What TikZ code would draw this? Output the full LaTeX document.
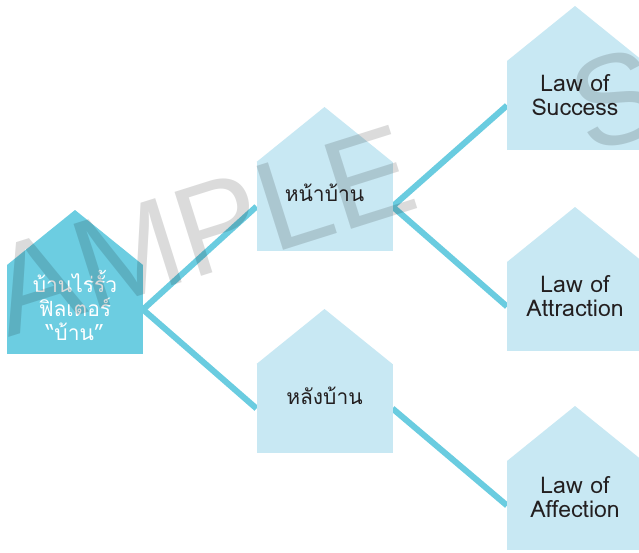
\documentclass[tikz,border=0pt]{standalone}
\usepackage{fontspec}
\newfontfamily\thaifont[Script=Thai]{Loma}
\newfontfamily\wmfont{Liberation Sans}
\definecolor{darkhouse}{HTML}{6CCDE1}
\definecolor{lighthouse}{HTML}{C8E8F3}
\definecolor{wirecol}{HTML}{6ACCE0}
\definecolor{ink}{HTML}{231F20}
\pgfdeclarelayer{back}
\pgfsetlayers{back,main}
\tikzset{
  wire/.style={draw=wirecol, line width=6pt},
  body/.style={rectangle, inner sep=0pt, outer sep=0pt,
    minimum width=136pt, minimum height=89pt},
  thai/.style={align=center, text=ink, inner sep=0pt,
    font=\thaifont\fontsize{21}{24}\selectfont},
  thaiw/.style={thai, text=white},
  latin/.style={align=center, text=ink, inner sep=0pt,
    font=\thaifont\fontsize{23}{24}\selectfont},
  watermark/.style={rotate=17.5, anchor=base west, text=black, text opacity=0.14,
    inner sep=0pt, font=\wmfont\fontsize{128}{128}\selectfont},
}
% name, centre x, roof top y, colour
\newcommand\house[4]{%
  \node[body, fill=#4] (#1) at (#2,#3+99.5) {};
  \fill[#4] (#1.north west) -- ++(68,-55) -- (#1.north east) -- cycle;}
\begin{document}
\begin{tikzpicture}[x=1pt,y=-1pt]
\useasboundingbox (0,0) rectangle (639,552);
\clip (0,0) rectangle (639,552);
% houses
\house{b0}{75}{210}{darkhouse}
\house{b1}{324.5}{107}{lighthouse}
\house{b2}{324.5}{309}{lighthouse}
\house{b3}{575}{6}{lighthouse}
\house{b4}{575}{207}{lighthouse}
\house{b5}{575}{406}{lighthouse}
% connectors (behind the houses)
\begin{pgfonlayer}{back}
\fill[white] (0,0) rectangle (639,552);
\draw[wire] (b0.east) -- (b1.west);
\draw[wire] (b0.east) -- (b2.west);
\draw[wire] (b1.east) -- (b3.west);
\draw[wire] (b1.east) -- (b4.west);
\draw[wire] (b2.east) -- (b5.west);
\end{pgfonlayer}
% labels
\node[thaiw] (n0) at (75,305) {บ้านไร่รั้ว\\ฟิลเตอร์\\“บ้าน”};
\node[thai] (n1) at (324.5,193) {หน้าบ้าน};
\node[thai] (n2) at (324.5,396) {หลังบ้าน};
\node[latin] (n3) at (575,95) {Law of\\Success};
\node[latin] (n4) at (575,296) {Law of\\Attraction};
\node[latin] (n5) at (575,497) {Law of\\Affection};
% watermark
\node[watermark] (wm) at (-72.8,362.9) {SAMPLE\hspace{174pt}SAMPLE};
\end{tikzpicture}
\end{document}
